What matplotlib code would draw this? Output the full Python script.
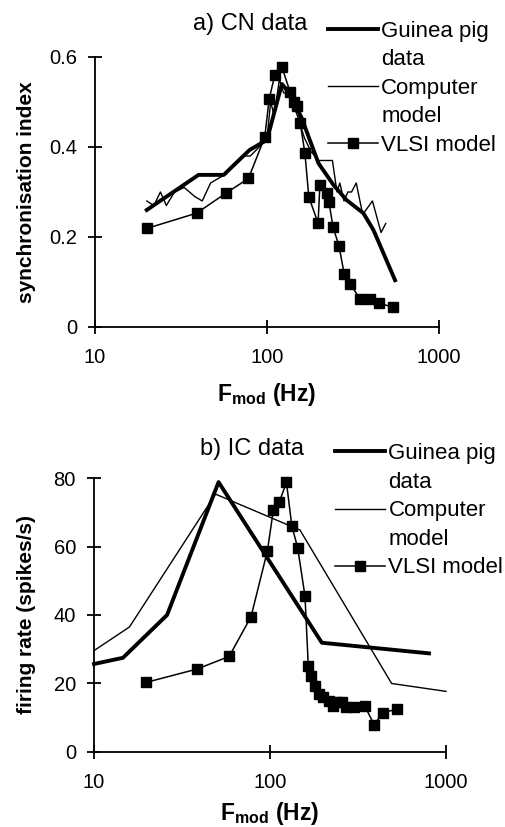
import matplotlib
matplotlib.use('Agg')
import matplotlib.pyplot as plt
from matplotlib.lines import Line2D

plt.rcParams['font.family'] = ['Liberation Sans', 'DejaVu Sans']
plt.rcParams['mathtext.fontset'] = 'custom'
plt.rcParams['mathtext.rm'] = 'Liberation Sans'
plt.rcParams['mathtext.bf'] = 'Liberation Sans:bold'

# ---- a) CN data ----
cn_gp_f = [20, 40, 56, 79, 100, 122, 133, 158, 199, 243, 290, 363, 415, 475, 555]
cn_gp_v = [0.26, 0.338, 0.338, 0.393, 0.416, 0.54, 0.523, 0.467, 0.364, 0.316, 0.282, 0.253, 0.216, 0.164, 0.104]

cn_cm_f = [20, 22, 24, 26, 29, 33, 38, 42, 47, 52, 58, 64, 72, 80, 90, 100, 105, 110, 118, 125,
           132, 140, 150, 165, 180, 200, 215, 240, 255, 265, 280, 295, 310, 330, 360, 410, 460, 490]
cn_cm_v = [0.28, 0.27, 0.30, 0.27, 0.30, 0.31, 0.29, 0.28, 0.32, 0.33, 0.34, 0.36, 0.38, 0.38, 0.40, 0.42,
           0.50, 0.47, 0.55, 0.52, 0.52, 0.50, 0.47, 0.42, 0.39, 0.37, 0.37, 0.37, 0.30, 0.32, 0.28, 0.30,
           0.30, 0.32, 0.25, 0.28, 0.21, 0.23]

cn_vl_f = [20, 39, 58, 78, 97, 103, 111, 122, 136, 144, 150, 156, 166, 175, 198, 203, 223, 229, 242,
           262, 281, 304, 348, 397, 448, 540]
cn_vl_v = [0.219, 0.253, 0.298, 0.330, 0.422, 0.507, 0.56, 0.578, 0.523, 0.50, 0.49, 0.453, 0.387,
           0.289, 0.231, 0.316, 0.298, 0.278, 0.222, 0.18, 0.118, 0.096, 0.062, 0.062, 0.053, 0.044]

# ---- b) IC data ----
ic_gp_f = [10, 14.6, 26, 51, 197, 800]
ic_gp_v = [25.7, 27.5, 40, 78.8, 31.9, 28.8]

ic_cm_f = [10, 15.9, 49, 148, 491, 1000]
ic_cm_v = [29.6, 36.5, 75.3, 64.8, 20.0, 17.7]

ic_vl_f = [19.7, 38.4, 58.6, 78, 96.6, 104.5, 113, 124, 133, 143.5, 158, 165, 172, 180, 190, 200,
           215, 228, 240, 255, 270, 300, 345, 390, 440, 525]
ic_vl_v = [20.3, 24.2, 27.9, 39.5, 58.7, 70.7, 73.1, 78.7, 66, 59.7, 45.5, 25, 22.3, 19.3, 17, 16,
           15, 13.5, 14.5, 14.5, 13, 13, 13.5, 8, 11.5, 12.5]

labels = ['Guinea pig', 'data', 'Computer', 'model', 'VLSI model']

fig = plt.figure(figsize=(5.06, 8.27), dpi=100)
ax1 = fig.add_axes([0.1877, 0.6046, 0.680, 0.3265])
ax2 = fig.add_axes([0.1858, 0.0907, 0.6957, 0.3313])


def style_axes(ax, yticks, ylabel, xpad):
    ax.set_xscale('log')
    ax.set_xlim(10, 1000)
    ax.set_xticks([10, 100, 1000])
    ax.set_xticklabels(['10', '100', '1000'])
    ax.minorticks_off()
    ax.set_yticks(yticks)
    ax.set_ylim(yticks[0], yticks[-1])
    for s in ['top', 'right']:
        ax.spines[s].set_visible(False)
    for s in ['left', 'bottom']:
        ax.spines[s].set_linewidth(1.3)
    ax.tick_params(direction='inout', length=10, width=1.3, labelsize=14.5)
    ax.tick_params(axis='x', pad=10)
    ax.tick_params(axis='y', pad=8)
    ax.set_ylabel(ylabel, fontsize=15, fontweight='bold')
    ax.yaxis.set_label_coords(0.072, ax.get_position().y0 + ax.get_position().height / 2,
                              transform=fig.transFigure)
    ax.set_xlabel(r'$\mathbf{F_{mod}}$ (Hz)', fontsize=16.5, fontweight='bold', labelpad=xpad)


def draw(ax, gp, cm, vl, title, tx, ty, ly):
    h1, = ax.plot(gp[0], gp[1], color='black', lw=2.8, clip_on=False)
    h2, = ax.plot(cm[0], cm[1], color='black', lw=1.0, clip_on=False)
    h3, = ax.plot(vl[0], vl[1], color='black', lw=1.1, marker='s', markersize=7,
                  clip_on=False)
    blank = Line2D([], [], color='none')
    ax.legend([h1, blank, h2, blank, h3], labels, loc='upper left',
              bbox_to_anchor=(tx, ly), frameon=False, fontsize=16,
              handlelength=2.25, handletextpad=0.15, labelspacing=0.34,
              borderaxespad=0, borderpad=0)
    ax.set_title(title, fontsize=17, pad=0, x=0.45, y=ty)


draw(ax1, (cn_gp_f, cn_gp_v), (cn_cm_f, cn_cm_v), (cn_vl_f, cn_vl_v), 'a) CN data',
     0.677, 1.10, 1.135)
style_axes(ax1, [0, 0.2, 0.4, 0.6], 'synchronisation index', 10)
ax1.set_yticklabels(['0', '0.2', '0.4', '0.6'])

draw(ax2, (ic_gp_f, ic_gp_v), (ic_cm_f, ic_cm_v), (ic_vl_f, ic_vl_v), 'b) IC data',
     0.685, 1.085, 1.127)
style_axes(ax2, [0, 20, 40, 60, 80], 'firing rate (spikes/s)', 6)

fig.savefig('out.png', dpi=100)
